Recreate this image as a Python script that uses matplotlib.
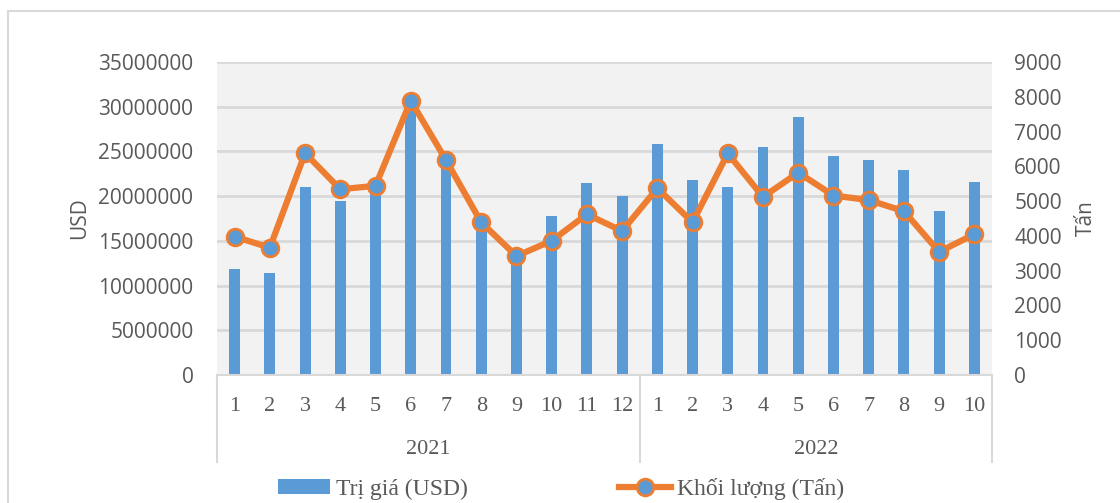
import matplotlib
matplotlib.use("Agg")
import matplotlib.pyplot as plt
import matplotlib.transforms as mtransforms
from matplotlib.patches import Rectangle, Patch
from matplotlib.lines import Line2D
import numpy as np

# Monthly export data, 2021-01 .. 2022-10
months = [str(m) for m in range(1, 13)] + [str(m) for m in range(1, 11)]
years = ["2021", "2022"]
year_sizes = [12, 10]
value_usd = [11900000, 11450000, 21050000, 19450000, 20200000, 30200000,
             23800000, 16900000, 14200000, 17800000, 21500000, 20050000,
             25800000, 21800000, 21050000, 25500000, 28800000, 24500000,
             24050000, 22900000, 18300000, 21600000]
volume_tan = [3980, 3660, 6380, 5340, 5440, 7890, 6180, 4390, 3420, 3860, 4620, 4140,
              5370, 4390, 6370, 5120, 5820, 5160, 5030, 4710, 3540, 4050]

BLUE = "#5b9bd5"
ORANGE = "#ed7d31"
TXT = "#595959"
GRID = "#d9d9d9"
SANS = ["Open Sans", "DejaVu Sans"]
SERIF = ["Liberation Serif", "DejaVu Serif"]

fig = plt.figure(figsize=(11.2, 5.03), dpi=100)
W, H = 1120, 503

# outer chart frame (runs past the right and bottom edges)
fig.patches.append(Rectangle((8 / W, -0.1), 1.2, 1 - 11 / H + 0.1, transform=fig.transFigure,
                             fill=False, edgecolor=GRID, linewidth=1.5))

ax = fig.add_axes([217 / W, 1 - 375 / H, (992 - 217) / W, (375 - 62) / H])
ax.set_facecolor("#f2f2f2")
x = np.arange(len(months))

ax.bar(x, value_usd, width=0.31, color=BLUE, zorder=2)
ax.set_xlim(-0.5, len(months) - 0.5)
ax.set_ylim(0, 35000000)
ax.set_yticks(np.arange(0, 35000001, 5000000))
ax.yaxis.set_major_formatter(matplotlib.ticker.FuncFormatter(lambda v, p: f"{int(v)}"))
ax.grid(axis="y", color=GRID, linewidth=2, zorder=0)
ax.set_axisbelow(True)
for s in ["top", "left", "right"]:
    ax.spines[s].set_visible(False)
ax.spines["bottom"].set_color(GRID)
ax.spines["bottom"].set_linewidth(1.5)
ax.tick_params(axis="y", length=0, pad=17, labelsize=15, labelcolor=TXT)
for lab in ax.get_yticklabels():
    lab.set_family(SANS)
ax.set_xticks(x)
ax.set_xticklabels(months, family=SERIF, fontsize=16, color=TXT)
ax.tick_params(axis="x", length=0, pad=16)
ax.set_ylabel("USD", family=SANS, fontsize=15, color=TXT, labelpad=6)

# two-level category axis: separators and year labels
trans = mtransforms.blended_transform_factory(ax.transData, ax.transAxes)
depth = -(462 - 375) / (375 - 62)
start = -0.5
for yr, n in zip(years, year_sizes):
    ax.text(start + n / 2, -(450 - 375) / (375 - 62), yr, transform=trans, ha="center", va="center",
            family=SERIF, fontsize=16, color=TXT)
    start += n
for b in np.concatenate([[-0.5], np.cumsum(year_sizes) - 0.5]):
    ax.plot([b, b], [0, depth], transform=trans, color=GRID, linewidth=1.5, clip_on=False)

ax2 = ax.twinx()
ax2.plot(x, volume_tan, color=ORANGE, linewidth=4.5, marker="o", markersize=12,
         markerfacecolor=BLUE, markeredgecolor=ORANGE, markeredgewidth=2, zorder=3)
ax2.set_ylim(0, 9000)
ax2.set_yticks(np.arange(0, 9001, 1000))
for s in ax2.spines.values():
    s.set_visible(False)
ax2.tick_params(axis="y", length=0, pad=16, labelsize=15, labelcolor=TXT)
for lab in ax2.get_yticklabels():
    lab.set_family(SANS)
ax2.set_ylabel("Tấn", family=SANS, fontsize=15, color=TXT, labelpad=10)

handles = [Patch(facecolor=BLUE, edgecolor="none"),
           Line2D([0], [0], color=ORANGE, linewidth=4.5, marker="o", markersize=12,
                  markerfacecolor=BLUE, markeredgecolor=ORANGE, markeredgewidth=2)]
fig.legend(handles, ["Trị giá (USD)", "Khối lượng (Tấn)"], loc="center",
           bbox_to_anchor=(561 / W, 1 - 489 / H), ncol=2, frameon=False,
           prop={"family": SERIF, "size": 17}, labelcolor=TXT,
           handlelength=2.2, handleheight=0.6, handletextpad=0.25, columnspacing=6.4)

fig.savefig("out.png", dpi=100)
